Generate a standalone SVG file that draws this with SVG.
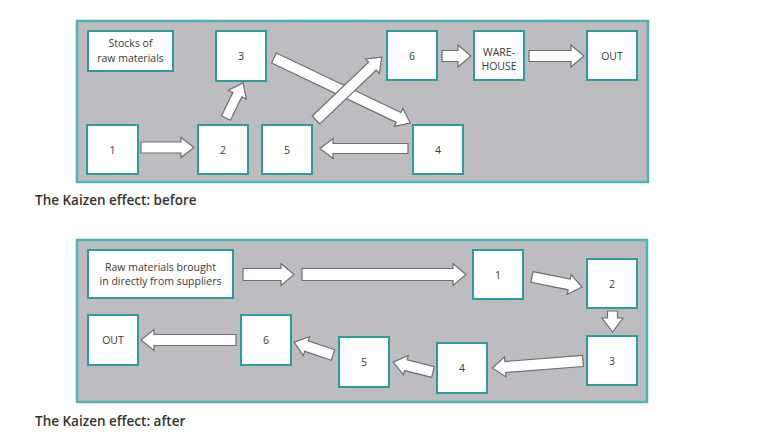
<svg xmlns="http://www.w3.org/2000/svg" width="768" height="437" viewBox="0 0 768 437">
<style>
.panel{fill:#bdbdc1;stroke:#4fb3b3;stroke-width:2.5}
.box{fill:#ffffff;stroke:#2e9c9a;stroke-width:2}
.t{font-family:"Open Sans","Liberation Sans",sans-serif;font-size:10.5px;fill:#3a3a3a;text-anchor:middle}
.cap{font-family:"Open Sans","Liberation Sans",sans-serif;font-size:13.5px;font-weight:600;fill:#333333}
.arr{fill:#ffffff;stroke:#6e6e6e;stroke-width:1.2;stroke-linejoin:miter}
</style>
<rect width="768" height="437" fill="#ffffff"/>
<rect class="panel" x="77" y="21" width="571" height="161"/>
<rect class="panel" x="77" y="240" width="570" height="162"/>

<g id="connectors">
  <!-- top -->
  <polygon class="arr" transform="translate(141,147.5)" points="0,-5.5 40,-5.5 40,-10 53,0 40,10 40,5.5 0,5.5"/>
  <polygon class="arr" transform="translate(226,118) rotate(-64.1)" points="0,-5 26,-5 26,-10 39,0 26,10 26,5 0,5"/>
  <polygon class="arr" transform="translate(274,58) rotate(25.5)" points="0,-5.5 138,-5.5 138,-10 151,0 138,10 138,5.5 0,5.5"/>
  <polygon class="arr" transform="translate(316,120) rotate(-43.7)" points="0,-5.5 78,-5.5 78,-10 91,0 78,10 78,5.5 0,5.5"/>
  <polygon class="arr" transform="translate(408,148.5) rotate(180)" points="0,-5 75,-5 75,-10 88,0 75,10 75,5 0,5"/>
  <polygon class="arr" transform="translate(442,56)" points="0,-5.5 16,-5.5 16,-11 29,0 16,11 16,5.5 0,5.5"/>
  <polygon class="arr" transform="translate(529,56)" points="0,-5.5 42,-5.5 42,-11 55,0 42,11 42,5.5 0,5.5"/>
  <!-- bottom -->
  <polygon class="arr" transform="translate(243,274.5)" points="0,-6 38,-6 38,-11 51,0 38,11 38,6 0,6"/>
  <polygon class="arr" transform="translate(302,274.5)" points="0,-6 151,-6 151,-11 164,0 151,11 151,6 0,6"/>
  <polygon class="arr" transform="translate(532,277) rotate(11.3)" points="0,-5.5 38,-5.5 38,-10 51,0 38,10 38,5.5 0,5.5"/>
  <polygon class="arr" transform="translate(612.5,311) rotate(90)" points="0,-5 7,-5 7,-10.5 21,0 7,10.5 7,5 0,5"/>
  <polygon class="arr" transform="translate(583,361) rotate(175.6)" points="0,-5.5 78,-5.5 78,-10 91,0 78,10 78,5.5 0,5.5"/>
  <polygon class="arr" transform="translate(433,372) rotate(-166)" points="0,-5.5 28,-5.5 28,-10 41,0 28,10 28,5.5 0,5.5"/>
  <polygon class="arr" transform="translate(333,355) rotate(-161.6)" points="0,-5.5 28,-5.5 28,-10 41,0 28,10 28,5.5 0,5.5"/>
  <polygon class="arr" transform="translate(236,340) rotate(180)" points="0,-5.5 82,-5.5 82,-10.5 95,0 82,10.5 82,5.5 0,5.5"/>
</g>

<!-- top nodes -->
<g id="stocks"><rect class="box" x="88" y="31" width="85" height="40"/><text class="t" x="130.5" y="47">Stocks of</text><text class="t" x="130.5" y="62">raw materials</text></g>
<g id="b1-3"><rect class="box" x="216" y="31" width="50" height="50"/><text class="t" x="241" y="60">3</text></g>
<g id="b1-1"><rect class="box" x="87" y="125" width="51" height="49"/><text class="t" x="112.5" y="153.5">1</text></g>
<g id="b1-2"><rect class="box" x="198" y="125" width="50" height="49"/><text class="t" x="223" y="153.5">2</text></g>
<g id="b1-5"><rect class="box" x="262" y="125" width="50" height="49"/><text class="t" x="287" y="153.5">5</text></g>
<g id="b1-6"><rect class="box" x="387" y="31" width="50" height="49"/><text class="t" x="412" y="59.5">6</text></g>
<g id="b1-wh"><rect class="box" x="474" y="31" width="50" height="49"/><text class="t" x="499" y="55.5">WARE-</text><text class="t" x="499" y="69.5">HOUSE</text></g>
<g id="b1-out"><rect class="box" x="587" y="31" width="50" height="49"/><text class="t" x="612" y="59.5">OUT</text></g>
<g id="b1-4"><rect class="box" x="413" y="125" width="50" height="49"/><text class="t" x="438" y="153.5">4</text></g>

<!-- bottom nodes -->
<g id="raw"><rect class="box" x="88" y="250" width="145" height="48"/><text class="t" x="160.5" y="271">Raw materials brought</text><text class="t" x="160.5" y="285">in directly from suppliers</text></g>
<g id="b2-out"><rect class="box" x="88" y="315" width="50" height="50"/><text class="t" x="113" y="344">OUT</text></g>
<g id="b2-6"><rect class="box" x="241" y="315" width="50" height="50"/><text class="t" x="266" y="344">6</text></g>
<g id="b2-1"><rect class="box" x="473" y="250" width="50" height="49"/><text class="t" x="498" y="278.5">1</text></g>
<g id="b2-2"><rect class="box" x="587" y="259" width="50" height="49"/><text class="t" x="612" y="287.5">2</text></g>
<g id="b2-3"><rect class="box" x="587" y="336" width="50" height="49"/><text class="t" x="612" y="364.5">3</text></g>
<g id="b2-4"><rect class="box" x="437" y="343" width="50" height="50"/><text class="t" x="462" y="372">4</text></g>
<g id="b2-5"><rect class="box" x="339" y="337" width="50" height="50"/><text class="t" x="364" y="366">5</text></g>

<text class="cap" x="35" y="205">The Kaizen effect: before</text>
<text class="cap" x="35" y="426">The Kaizen effect: after</text>
</svg>
